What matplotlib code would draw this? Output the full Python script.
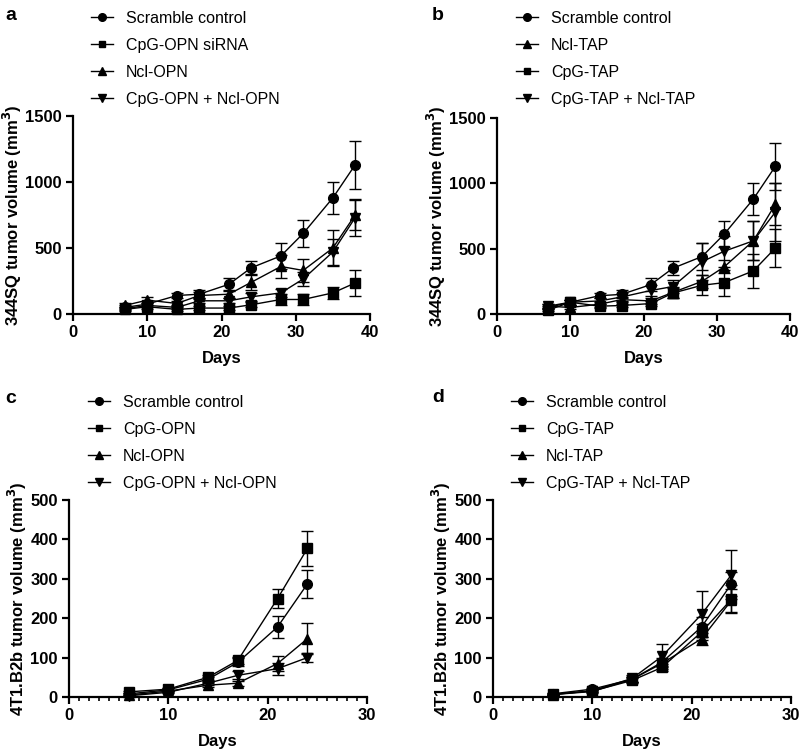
import matplotlib
matplotlib.use("Agg")
import matplotlib.pyplot as plt
from matplotlib.lines import Line2D
from matplotlib.ticker import MultipleLocator

plt.rcParams['font.family'] = ['Liberation Sans', 'DejaVu Sans']

# ---- data ----
days_344 = [7, 10, 14, 17, 21, 24, 28, 31, 35, 38]
days_4t1 = [6, 10, 14, 17, 21, 24]

# panel a
a_labels = ["Scramble control", "CpG-OPN siRNA", "Ncl-OPN", "CpG-OPN + Ncl-OPN"]
a_markers = ["o", "s", "^", "v"]
a_mean = [
    [50, 75, 140, 150, 225, 350, 440, 610, 880, 1130],
    [35, 55, 35, 45, 45, 70, 110, 110, 160, 235],
    [65, 105, 80, 140, 150, 240, 360, 330, 500, 750],
    [40, 65, 50, 100, 100, 130, 160, 265, 470, 730],
]
a_err = [
    [15, 20, 20, 30, 50, 55, 100, 100, 120, 180],
    [10, 15, 15, 15, 15, 20, 40, 45, 45, 95],
    [15, 20, 20, 30, 30, 60, 90, 90, 135, 110],
    [10, 15, 15, 20, 20, 30, 30, 50, 100, 140],
]

# panel b
b_labels = ["Scramble control", "Ncl-TAP", "CpG-TAP", "CpG-TAP + Ncl-TAP"]
b_markers = ["o", "^", "s", "v"]
b_mean = [
    [50, 90, 140, 150, 225, 350, 440, 610, 880, 1130],
    [60, 50, 75, 110, 100, 165, 250, 360, 560, 840],
    [30, 90, 60, 65, 80, 160, 220, 240, 330, 505],
    [60, 90, 100, 130, 180, 210, 400, 480, 560, 780],
]
b_err = [
    [15, 20, 20, 30, 50, 55, 100, 100, 120, 180],
    [15, 15, 20, 20, 20, 40, 50, 50, 150, 160],
    [10, 20, 15, 15, 20, 40, 75, 100, 130, 145],
    [15, 20, 20, 30, 40, 50, 140, 120, 150, 220],
]

# panel c
c_labels = ["Scramble control", "CpG-OPN", "Ncl-OPN", "CpG-OPN + Ncl-OPN"]
c_markers = ["o", "s", "^", "v"]
c_mean = [
    [8, 18, 45, 88, 178, 287],
    [13, 20, 50, 93, 250, 377],
    [5, 15, 30, 35, 85, 148],
    [3, 12, 35, 55, 72, 100],
]
c_err = [
    [3, 4, 6, 10, 28, 35],
    [3, 4, 6, 8, 24, 45],
    [2, 3, 5, 6, 18, 40],
    [2, 3, 5, 10, 15, 12],
]

# panel d
d_labels = ["Scramble control", "CpG-TAP", "Ncl-TAP", "CpG-TAP + Ncl-TAP"]
d_markers = ["o", "s", "^", "v"]
d_mean = [
    [8, 20, 45, 88, 178, 287],
    [7, 15, 42, 75, 165, 248],
    [6, 14, 45, 85, 148, 245],
    [6, 16, 47, 103, 210, 310],
]
d_err = [
    [3, 4, 6, 10, 25, 30],
    [2, 3, 6, 8, 20, 35],
    [2, 3, 6, 8, 15, 30],
    [2, 4, 10, 32, 58, 62],
]

W, H = 800, 749
fig = plt.figure(figsize=(W / 100, H / 100), dpi=100)


def px_axes(left, top, right, bottom):
    return fig.add_axes([left / W, 1 - bottom / H, (right - left) / W, (bottom - top) / H])


def panel(ax, days, means, errs, markers, labels, xmax, ymax, ystep, ylabel, minor,
          leg_xy, letter_xy, letter):
    handles = []
    for m, e, mk, lb in zip(means, errs, markers, labels):
        ms = 6.5 if mk == "s" else 7
        ax.errorbar(days, m, yerr=e, color="black", marker=mk, markersize=ms,
                    lw=1, elinewidth=1, capsize=4, capthick=1, clip_on=False)
        handles.append(Line2D([], [], color="black", lw=1, marker=mk,
                              markersize=ms - 1.5, label=lb))
    ax.set_xlim(0, xmax)
    ax.set_ylim(0, ymax)
    ax.xaxis.set_major_locator(MultipleLocator(10))
    ax.yaxis.set_major_locator(MultipleLocator(ystep))
    if minor:
        ax.xaxis.set_minor_locator(MultipleLocator(1))
    ax.spines[["top", "right"]].set_visible(False)
    for s in ["left", "bottom"]:
        ax.spines[s].set_linewidth(1.6)
    ax.tick_params(which="major", width=1.6, length=5, pad=3, labelsize=12)
    ax.tick_params(which="minor", width=1.2, length=3)
    for t in ax.get_xticklabels() + ax.get_yticklabels():
        t.set_fontweight("bold")
    ax.set_xlabel("Days", fontsize=12, fontweight="bold", labelpad=8)
    ax.set_ylabel(ylabel, fontsize=12, fontweight="bold", labelpad=1)
    ax.legend(handles=handles, loc="upper left", bbox_to_anchor=leg_xy,
              bbox_transform=fig.transFigure, frameon=False, fontsize=11.5,
              handlelength=1.35, handletextpad=0.85, labelspacing=0.75, borderpad=0,
              borderaxespad=0)
    fig.text(letter_xy[0] / W, 1 - letter_xy[1] / H, letter, fontsize=14,
             fontweight="bold", va="center", ha="left")


lab344 = "344SQ tumor volume (mm$^\\mathbf{3}$)"
lab4t1 = "4T1.B2b tumor volume (mm$^\\mathbf{3}$)"

ax_a = px_axes(73, 116, 370, 314)
panel(ax_a, days_344, a_mean, a_err, a_markers, a_labels, 40, 1500, 500, lab344, False,
      (91 / W, 1 - 11 / H), (5, 15), "a")

ax_b = px_axes(497, 118, 790, 314)
panel(ax_b, days_344, b_mean, b_err, b_markers, b_labels, 40, 1500, 500, lab344, False,
      (516 / W, 1 - 11 / H), (432, 15), "b")

ax_c = px_axes(69, 500, 367, 697)
panel(ax_c, days_4t1, c_mean, c_err, c_markers, c_labels, 30, 500, 100, lab4t1, True,
      (88 / W, 1 - 395 / H), (5, 399), "c")

ax_d = px_axes(493, 500, 791, 697)
panel(ax_d, days_4t1, d_mean, d_err, d_markers, d_labels, 30, 500, 100, lab4t1, True,
      (511 / W, 1 - 395 / H), (432, 397), "d")

fig.savefig("out.png", dpi=100)
